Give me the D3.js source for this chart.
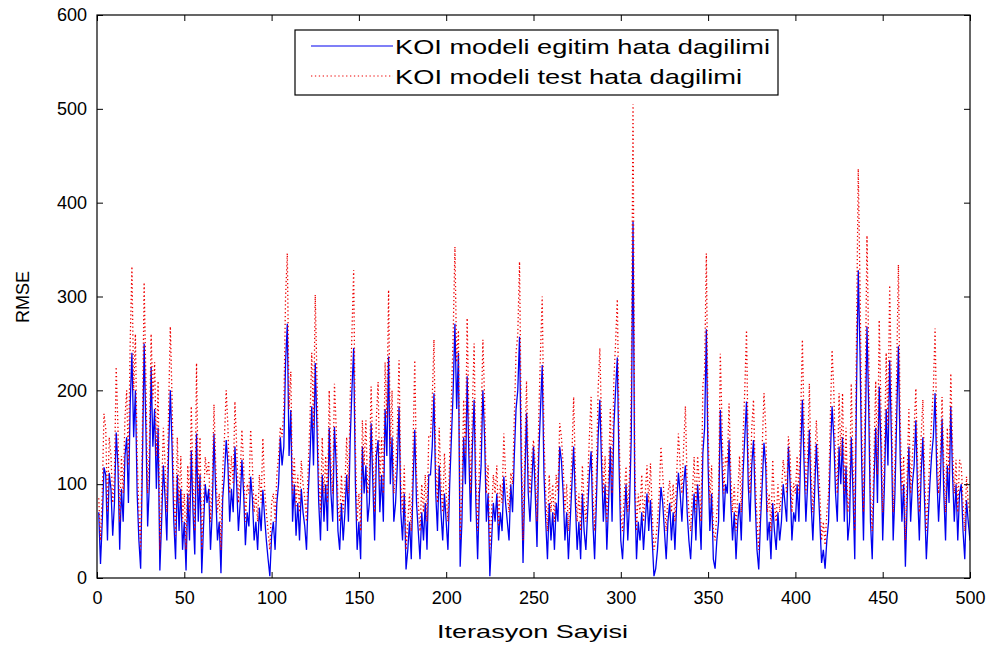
<!DOCTYPE html>
<html>
<head>
<meta charset="utf-8">
<script src="https://cdn.jsdelivr.net/npm/d3@7.9.0/dist/d3.min.js"></script>
<style>
  body { margin: 0; background: #fff; }
  svg { font-family: "Liberation Sans", Arial, sans-serif; }
</style>
</head>
<body>
<svg id="chart" width="1005" height="648"></svg>
<script>
// RMSE per iteration (iterations 1..500)
const egitim = [
  70, 15, 60, 118, 110, 40, 112, 95, 45, 80,
  155, 120, 30, 95, 60, 130, 150, 80, 185, 240,
  150, 200, 90, 40, 10, 120, 250, 160, 55, 100,
  225, 140, 180, 95, 160, 8, 60, 120, 85, 40,
  135, 200, 140, 60, 20, 110, 50, 95, 30, 60,
  8, 90, 40, 136, 70, 25, 154, 60, 110, 5,
  55, 100, 80, 95, 30, 70, 154, 90, 40, 60,
  5, 85, 110, 147, 120, 60, 95, 70, 140, 100,
  50, 80, 126, 90, 35, 70, 55, 108, 85, 40,
  60, 30, 75, 50, 94, 65, 40, 20, 2, 45,
  60, 30, 80, 100, 150, 120, 140, 230, 271, 130,
  179, 60, 100, 45, 80, 40, 95, 70, 55, 30,
  90, 130, 183, 120, 229, 160, 80, 40, 110, 60,
  100, 50, 160, 90, 60, 161, 120, 50, 30, 80,
  40, 70, 110, 60, 147, 200, 245, 100, 30, 60,
  20, 140, 90, 120, 60, 80, 165, 100, 40, 130,
  147, 70, 110, 60, 180, 130, 236, 100, 150, 60,
  80, 120, 183, 70, 40, 90, 9, 30, 60, 20,
  100, 158, 80, 50, 20, 70, 40, 80, 30, 110,
  110, 140, 197, 90, 50, 120, 70, 40, 90, 60,
  30, 100, 150, 200, 271, 180, 240, 12, 60, 150,
  100, 215, 130, 60, 140, 190, 80, 20, 90, 120,
  200, 150, 60, 90, 2, 40, 80, 60, 90, 40,
  70, 50, 108, 80, 60, 40, 100, 70, 130, 180,
  200, 257, 120, 16, 100, 176, 90, 60, 100, 140,
  90, 33, 130, 180, 227, 110, 60, 20, 80, 40,
  70, 30, 80, 60, 140, 125, 90, 40, 70, 20,
  60, 100, 140, 80, 30, 60, 20, 90, 50, 30,
  70, 110, 135, 60, 20, 80, 150, 190, 120, 60,
  100, 30, 80, 140, 60, 160, 200, 235, 120, 40,
  20, 60, 100, 40, 80, 150, 380, 90, 20, 60,
  40, 70, 30, 60, 90, 50, 83, 40, 2, 10,
  30, 60, 97, 80, 50, 20, 60, 80, 40, 70,
  30, 80, 112, 90, 60, 100, 120, 70, 40, 20,
  60, 90, 40, 100, 70, 30, 133, 160, 265, 120,
  50, 90, 20, 10, 40, 60, 179, 120, 60, 100,
  90, 147, 80, 40, 70, 20, 60, 80, 40, 110,
  150, 188, 100, 60, 120, 147, 80, 30, 9, 60,
  100, 144, 120, 40, 60, 20, 80, 50, 30, 70,
  40, 60, 100, 80, 60, 140, 100, 40, 70, 60,
  100, 60, 130, 190, 120, 60, 100, 158, 80, 40,
  90, 143, 100, 60, 16, 30, 10, 40, 60, 130,
  183, 150, 90, 60, 140, 100, 150, 60, 120, 40,
  60, 150, 90, 20, 200, 328, 240, 120, 40, 150,
  268, 180, 60, 20, 100, 160, 80, 204, 140, 40,
  100, 180, 120, 232, 150, 40, 90, 170, 247, 130,
  60, 100, 12, 80, 140, 60, 100, 120, 168, 90,
  40, 110, 150, 80, 20, 60, 100, 130, 150, 197,
  110, 60, 100, 170, 90, 40, 120, 80, 183, 110,
  60, 100, 40, 90, 100, 50, 20, 83, 60, 40
];

const test = [
  85, 40, 90, 175, 160, 70, 150, 130, 80, 110,
  225, 160, 60, 130, 90, 170, 200, 120, 250, 332,
  200, 260, 130, 70, 30, 160, 315, 210, 90, 140,
  260, 190, 230, 130, 210, 30, 90, 160, 120, 70,
  180, 268, 190, 90, 45, 150, 80, 130, 60, 90,
  30, 120, 70, 183, 100, 50, 229, 90, 150, 30,
  80, 129, 110, 125, 60, 100, 185, 120, 70, 90,
  30, 115, 150, 200, 160, 90, 130, 100, 188, 140,
  80, 110, 158, 120, 60, 100, 90, 158, 120, 70,
  90, 60, 110, 80, 149, 95, 70, 50, 30, 80,
  90, 60, 110, 130, 161, 150, 180, 300, 346, 180,
  220, 90, 129, 75, 110, 70, 125, 100, 85, 60,
  120, 170, 240, 160, 302, 210, 110, 70, 150, 90,
  130, 80, 200, 120, 90, 207, 160, 80, 60, 110,
  70, 100, 150, 90, 190, 260, 328, 140, 60, 90,
  50, 168, 120, 168, 90, 110, 204, 130, 70, 170,
  209, 100, 150, 90, 230, 170, 307, 140, 200, 90,
  110, 160, 232, 100, 70, 120, 30, 60, 90, 50,
  140, 232, 110, 80, 50, 100, 70, 110, 60, 151,
  150, 190, 254, 120, 80, 160, 100, 70, 133, 90,
  60, 130, 190, 260, 353, 230, 264, 40, 90, 190,
  130, 277, 170, 90, 180, 250, 110, 50, 120, 160,
  254, 190, 90, 120, 30, 70, 110, 90, 120, 55,
  100, 80, 154, 110, 90, 70, 112, 100, 170, 240,
  260, 337, 160, 40, 130, 210, 120, 90, 130, 147,
  120, 60, 170, 240, 300, 150, 90, 50, 110, 70,
  100, 60, 110, 90, 165, 150, 120, 70, 100, 50,
  90, 130, 193, 110, 60, 90, 50, 120, 80, 60,
  100, 150, 193, 90, 50, 110, 200, 245, 160, 90,
  130, 60, 110, 180, 90, 210, 250, 297, 160, 70,
  50, 90, 119, 70, 110, 200, 505, 120, 50, 90,
  70, 110, 60, 90, 120, 80, 122, 70, 30, 40,
  60, 90, 140, 110, 80, 50, 90, 104, 70, 100,
  60, 110, 154, 120, 90, 140, 183, 100, 70, 50,
  90, 129, 70, 130, 100, 60, 206, 220, 346, 160,
  80, 120, 50, 40, 70, 90, 239, 160, 90, 130,
  120, 186, 110, 70, 100, 50, 90, 130, 70, 150,
  200, 264, 130, 90, 160, 190, 110, 60, 30, 90,
  140, 197, 160, 70, 90, 50, 126, 80, 60, 100,
  70, 90, 126, 110, 90, 151, 130, 70, 101, 90,
  130, 90, 170, 254, 160, 90, 130, 207, 110, 70,
  120, 168, 130, 90, 40, 60, 35, 70, 90, 170,
  243, 200, 120, 90, 197, 130, 197, 90, 160, 70,
  90, 207, 120, 50, 260, 436, 310, 160, 70, 200,
  365, 240, 90, 50, 130, 210, 110, 275, 180, 70,
  130, 240, 160, 312, 200, 70, 120, 220, 334, 170,
  90, 130, 40, 110, 180, 90, 130, 160, 202, 120,
  70, 150, 190, 110, 50, 90, 130, 170, 200, 266,
  150, 90, 130, 193, 120, 70, 160, 110, 218, 140,
  90, 126, 70, 126, 120, 80, 50, 108, 80, 70
];

const xTicks = [0, 50, 100, 150, 200, 250, 300, 350, 400, 450, 500];
const yTicks = [0, 100, 200, 300, 400, 500, 600];
const legendLabels = ['KOI modeli egitim hata dagilimi', 'KOI modeli test hata dagilimi'];

const margin = { top: 15, right: 35, bottom: 70, left: 97 };
const width = 1005 - margin.left - margin.right;
const height = 648 - margin.top - margin.bottom;

const svg = d3.select('#chart');
const g = svg.append('g').attr('transform', `translate(${margin.left},${margin.top})`);

const x = d3.scaleLinear().domain([0, 500]).range([0, width]);
const y = d3.scaleLinear().domain([0, 600]).range([height, 0]);

const line = d3.line()
  .x((d, i) => x(i + 1))
  .y((d) => y(d));

g.append('defs').append('clipPath').attr('id', 'clip')
  .append('rect').attr('width', width).attr('height', height);

const plot = g.append('g').attr('clip-path', 'url(#clip)');

plot.append('path')
  .datum(egitim)
  .attr('d', line)
  .attr('fill', 'none')
  .attr('stroke', '#0000f0')
  .attr('stroke-width', 1.3);

plot.append('path')
  .datum(test)
  .attr('d', line)
  .attr('fill', 'none')
  .attr('stroke', '#ee0000')
  .attr('stroke-width', 1.3)
  .attr('stroke-dasharray', '1.3,2.6');

// axes, MATLAB style: ticks inside, box all round
const tick = 6;
const axStyle = (sel) => {
  sel.select('.domain').remove();
  sel.selectAll('line').attr('stroke', '#000');
  sel.selectAll('text').attr('font-size', 18).attr('fill', '#000');
};

g.append('g')
  .attr('transform', `translate(0,${height})`)
  .call(d3.axisBottom(x).tickValues(xTicks).tickSize(-tick).tickPadding(13))
  .call(axStyle);
g.append('g')
  .call(d3.axisTop(x).tickValues(xTicks).tickSize(-tick).tickFormat(''))
  .call(axStyle);
g.append('g')
  .call(d3.axisLeft(y).tickValues(yTicks).tickSize(-tick).tickPadding(10))
  .call(axStyle);
g.append('g')
  .attr('transform', `translate(${width},0)`)
  .call(d3.axisRight(y).tickValues(yTicks).tickSize(-tick).tickFormat(''))
  .call(axStyle);

g.append('rect')
  .attr('width', width).attr('height', height)
  .attr('fill', 'none').attr('stroke', '#000').attr('stroke-width', 1.2);

svg.append('text')
  .attr('x', 437).attr('y', 638)
  .attr('font-size', 19)
  .attr('textLength', 191).attr('lengthAdjust', 'spacingAndGlyphs')
  .text('Iterasyon Sayisi');

svg.append('text')
  .attr('transform', `translate(29,323) rotate(-90)`)
  .attr('font-size', 18)
  .attr('textLength', 52).attr('lengthAdjust', 'spacingAndGlyphs')
  .text('RMSE');

// legend
const lg = svg.append('g').attr('transform', 'translate(295,30)');
lg.append('rect')
  .attr('width', 483).attr('height', 65)
  .attr('fill', '#fff').attr('stroke', '#000').attr('stroke-width', 1.2);

const legendStyles = [
  { color: '#0000f0', dash: null, len: 375 },
  { color: '#ee0000', dash: '1.3,2.6', len: 347 }
];
legendLabels.forEach((label, i) => {
  const yy = 16 + i * 30;
  lg.append('line')
    .attr('x1', 16).attr('x2', 98).attr('y1', yy).attr('y2', yy)
    .attr('stroke', legendStyles[i].color)
    .attr('stroke-width', 1.2)
    .attr('stroke-dasharray', legendStyles[i].dash);
  lg.append('text')
    .attr('x', 100).attr('y', yy + 8)
    .attr('font-size', 21)
    .attr('textLength', legendStyles[i].len).attr('lengthAdjust', 'spacingAndGlyphs')
    .text(label);
});
</script>
</body>
</html>
